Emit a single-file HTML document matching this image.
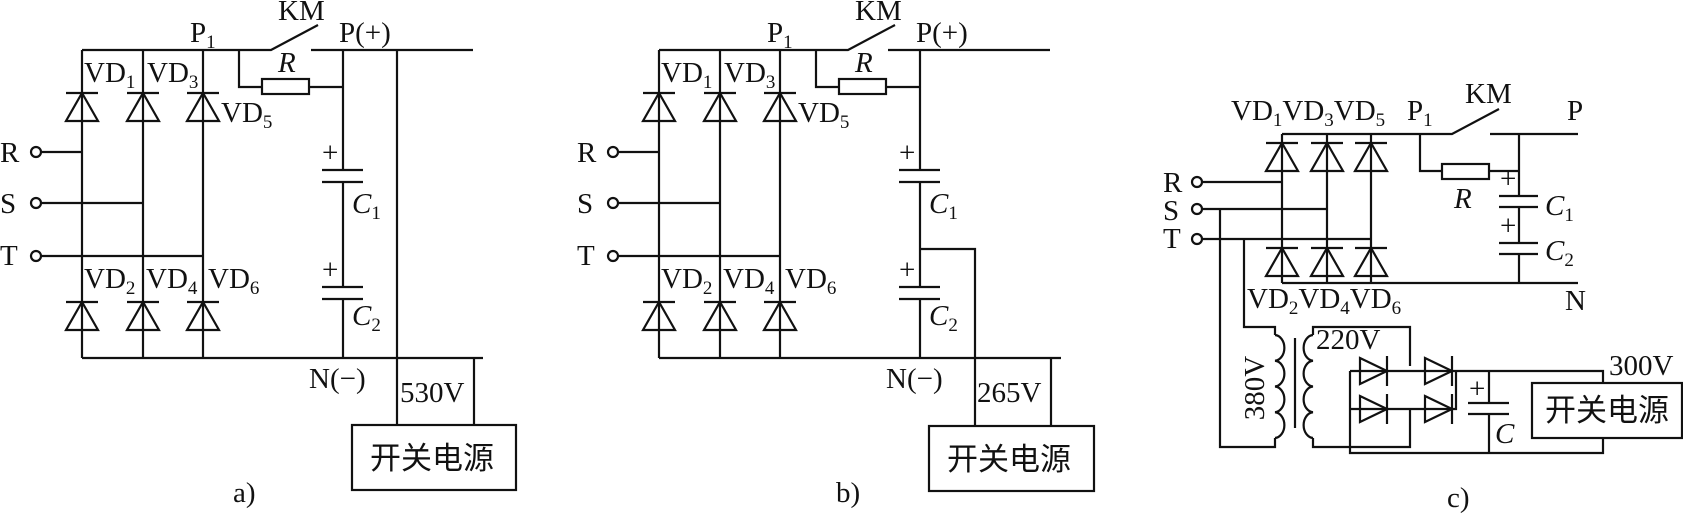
<!DOCTYPE html>
<html><head><meta charset="utf-8"><style>
html,body{margin:0;padding:0;background:#fff;}
svg{display:block;}
text{font-family:"Liberation Serif","Noto Serif CJK SC",serif;font-size:29px;fill:#111;}
.s{font-size:19px;}
.i{font-style:italic;}
.cn{font-family:"Liberation Serif","Noto Sans CJK SC",sans-serif;font-size:31px;}
</style></head><body>
<svg width="1683" height="517" viewBox="0 0 1683 517" xmlns="http://www.w3.org/2000/svg">
<defs>
<g id="du"><polygon points="-16,28 16,28 0,0" fill="none" stroke="#111" stroke-width="2.2"/><line x1="-16" y1="0" x2="16" y2="0" stroke="#111" stroke-width="2.2"/></g>
<g id="dr"><polygon points="0,-13 0,13 27,0" fill="none" stroke="#111" stroke-width="2.2"/><line x1="27" y1="-15" x2="27" y2="15" stroke="#111" stroke-width="2.2"/></g>
</defs>
<g fill="none" stroke="#111" stroke-width="2.2">
<path d="M82,50H271L318,25M311,50H473"/>
<path d="M82,50V358M143,50V358M203,50V358M82,358H483"/>
<path d="M41,152H82M41,203H143M41,256H203"/>
<path d="M239,50V87H262M309,87H343M343,50V170M343,182V287M343,299V358"/>
<rect x="262" y="79" width="47" height="15"/>
<path d="M322,170H363M322,182H363M322,287H363M322,299H363"/>
<path d="M397,50V425M474,358V425"/>
<rect x="352" y="425" width="164" height="65"/>
<circle cx="36" cy="152" r="5"/><circle cx="36" cy="203" r="5"/><circle cx="36" cy="256" r="5"/>
<path d="M659,50H848L895,25M888,50H1050"/>
<path d="M659,50V358M720,50V358M780,50V358M659,358H1061"/>
<path d="M618,152H659M618,203H720M618,256H780"/>
<path d="M816,50V87H839M886,87H920M920,50V170M920,182V287M920,299V358"/>
<rect x="839" y="79" width="47" height="15"/>
<path d="M899,170H940M899,182H940M899,287H940M899,299H940"/>
<path d="M920,249H975V426M1051,358V426"/>
<rect x="929" y="426" width="165" height="65"/>
<circle cx="613" cy="152" r="5"/><circle cx="613" cy="203" r="5"/><circle cx="613" cy="256" r="5"/>
<path d="M1282,134H1452L1499,109M1490,134H1578"/>
<path d="M1282,134V283M1327,134V283M1371,134V283M1282,283H1578"/>
<path d="M1202,182H1282M1202,209H1327M1202,239H1371"/>
<path d="M1420,134V171H1442M1489,171H1519M1519,134V196M1519,207V243M1519,254V283"/>
<rect x="1442" y="164" width="47" height="15"/>
<path d="M1499,196H1538M1499,207H1538M1499,243H1538M1499,254H1538"/>
<circle cx="1197" cy="182" r="5"/><circle cx="1197" cy="209" r="5"/><circle cx="1197" cy="239" r="5"/>
<path d="M1220,209V447H1275V438"/>
<path d="M1244,239V327H1275V335"/>
<path d="M1275,335a10,12.9 0 0 1 0,25.75a10,12.9 0 0 1 0,25.75a10,12.9 0 0 1 0,25.75a10,12.9 0 0 1 0,25.75"/>
<path d="M1295,338V428"/>
<path d="M1313,335a10,12.9 0 0 0 0,25.75a10,12.9 0 0 0 0,25.75a10,12.9 0 0 0 0,25.75a10,12.9 0 0 0 0,25.75"/>
<path d="M1313,335V327H1410V366M1313,438V447H1410V409"/>
<path d="M1350,371H1456V409H1350M1350,371V453H1603V438M1456,371H1603V383"/>
<path d="M1489,371V403M1489,414V453M1468,403H1509M1468,414H1509"/>
<rect x="1532" y="383" width="150" height="55"/>
</g>
<g fill="#fff">
<use href="#du" x="82" y="93"/><use href="#du" x="143" y="93"/><use href="#du" x="203" y="93"/>
<use href="#du" x="82" y="302"/><use href="#du" x="143" y="302"/><use href="#du" x="203" y="302"/>
<use href="#du" x="659" y="93"/><use href="#du" x="720" y="93"/><use href="#du" x="780" y="93"/>
<use href="#du" x="659" y="302"/><use href="#du" x="720" y="302"/><use href="#du" x="780" y="302"/>
<use href="#du" x="1282" y="143"/><use href="#du" x="1327" y="143"/><use href="#du" x="1371" y="143"/>
<use href="#du" x="1282" y="248"/><use href="#du" x="1327" y="248"/><use href="#du" x="1371" y="248"/>
<use href="#dr" x="1360" y="371"/><use href="#dr" x="1425" y="371"/>
<use href="#dr" x="1360" y="409"/><use href="#dr" x="1425" y="409"/>
</g>
<text x="278" y="20">KM</text>
<text x="190" y="42">P<tspan class="s" dy="6">1</tspan></text>
<text x="339" y="42">P(+)</text>
<text x="278" y="72" class="i">R</text>
<text x="84" y="82">VD<tspan class="s" dy="6">1</tspan></text>
<text x="147" y="82">VD<tspan class="s" dy="6">3</tspan></text>
<text x="221" y="122">VD<tspan class="s" dy="6">5</tspan></text>
<text x="84" y="288">VD<tspan class="s" dy="6">2</tspan></text>
<text x="146" y="288">VD<tspan class="s" dy="6">4</tspan></text>
<text x="208" y="288">VD<tspan class="s" dy="6">6</tspan></text>
<text x="0" y="162">R</text><text x="0" y="213">S</text><text x="0" y="265">T</text>
<text x="322" y="162" font-size="22">+</text><text x="322" y="279" font-size="22">+</text>
<text x="352" y="213" class="i">C<tspan class="s" dy="6" font-style="normal">1</tspan></text>
<text x="352" y="325" class="i">C<tspan class="s" dy="6" font-style="normal">2</tspan></text>
<text x="309" y="388">N(−)</text>
<text x="400" y="402">530V</text>
<text x="370" y="469" class="cn">开关电源</text>
<text x="233" y="502">a)</text>
<text x="855" y="20">KM</text>
<text x="767" y="42">P<tspan class="s" dy="6">1</tspan></text>
<text x="916" y="42">P(+)</text>
<text x="855" y="72" class="i">R</text>
<text x="661" y="82">VD<tspan class="s" dy="6">1</tspan></text>
<text x="724" y="82">VD<tspan class="s" dy="6">3</tspan></text>
<text x="798" y="122">VD<tspan class="s" dy="6">5</tspan></text>
<text x="661" y="288">VD<tspan class="s" dy="6">2</tspan></text>
<text x="723" y="288">VD<tspan class="s" dy="6">4</tspan></text>
<text x="785" y="288">VD<tspan class="s" dy="6">6</tspan></text>
<text x="577" y="162">R</text><text x="577" y="213">S</text><text x="577" y="265">T</text>
<text x="899" y="162" font-size="22">+</text><text x="899" y="279" font-size="22">+</text>
<text x="929" y="213" class="i">C<tspan class="s" dy="6" font-style="normal">1</tspan></text>
<text x="929" y="325" class="i">C<tspan class="s" dy="6" font-style="normal">2</tspan></text>
<text x="886" y="388">N(−)</text>
<text x="977" y="402">265V</text>
<text x="947" y="470" class="cn">开关电源</text>
<text x="836" y="502">b)</text>
<text x="1465" y="103">KM</text>
<text x="1231" y="120">VD<tspan class="s" dy="6">1</tspan><tspan dy="-6">VD</tspan><tspan class="s" dy="6">3</tspan><tspan dy="-6">VD</tspan><tspan class="s" dy="6">5</tspan></text>
<text x="1407" y="120">P<tspan class="s" dy="6">1</tspan></text>
<text x="1567" y="120">P</text>
<text x="1163" y="192">R</text><text x="1163" y="220">S</text><text x="1163" y="248">T</text>
<text x="1454" y="208" class="i">R</text>
<text x="1500" y="188" font-size="22">+</text><text x="1500" y="235" font-size="22">+</text>
<text x="1545" y="215" class="i">C<tspan class="s" dy="6" font-style="normal">1</tspan></text>
<text x="1545" y="260" class="i">C<tspan class="s" dy="6" font-style="normal">2</tspan></text>
<text x="1247" y="308">VD<tspan class="s" dy="6">2</tspan><tspan dy="-6">VD</tspan><tspan class="s" dy="6">4</tspan><tspan dy="-6">VD</tspan><tspan class="s" dy="6">6</tspan></text>
<text x="1565" y="310">N</text>
<text x="1316" y="349">220V</text>
<text x="1609" y="375">300V</text>
<text transform="translate(1264,388) rotate(-90)" text-anchor="middle">380V</text>
<text x="1469" y="398" font-size="22">+</text>
<text x="1495" y="443" class="i">C</text>
<text x="1545" y="421" class="cn">开关电源</text>
<text x="1447" y="507">c)</text>
</svg>
</body></html>
